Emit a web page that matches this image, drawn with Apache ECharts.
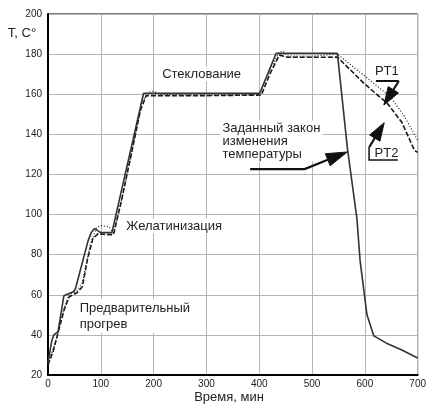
<!DOCTYPE html>
<html><head><meta charset="utf-8">
<script src="https://cdn.jsdelivr.net/npm/echarts@6/dist/echarts.min.js"></script>
<style>html,body{margin:0;padding:0;background:#fff}#c{width:429px;height:405px}</style>
</head><body><div id="c"></div>
<script>
// Setpoint ("Заданный закон изменения температуры") – solid
const setTime = [0, 7, 11, 19, 30, 48, 52, 76, 82, 88, 100, 121, 181, 401, 432, 548, 567, 585, 591, 604, 617, 640, 670, 700];
const setTemp = [26, 37, 40, 41.6, 59.5, 61.5, 63, 87, 91, 93, 91, 91, 160.5, 160.5, 180.4, 180.4, 133, 98, 77, 50, 39.5, 36, 32.5, 28.5];
// PT1 – dotted
const pt1Time = [0, 10, 20, 30, 40, 55, 65, 80, 92, 100, 115, 124, 140, 160, 178, 190, 200, 215, 300, 400, 420, 438, 445, 455, 500, 548, 600, 648, 675, 700];
const pt1Temp = [27, 33, 42, 53, 60, 62, 66, 85, 93.5, 94.5, 94, 91, 108, 133, 156, 161, 161.5, 159.8, 159.6, 159.8, 172, 181, 181.5, 179, 179, 180, 169, 158.8, 149, 137];
// PT2 – dashed
const pt2Time = [0, 10, 20, 30, 40, 55, 65, 75, 85, 95, 110, 124, 140, 160, 175, 186, 200, 300, 404, 420, 438, 454, 500, 548, 600, 642, 670, 694, 700];
const pt2Temp = [25, 32, 42, 52, 59, 61, 64, 78, 88, 90.5, 90, 90, 108, 133, 152, 159.3, 159.3, 159.3, 159.6, 170, 179.5, 178.4, 178.4, 178.5, 165, 155.6, 146, 132, 131];

const xMin = 0, xMax = 700, xStep = 100;
const yMin = 20, yMax = 200, yStep = 20;

const pairs = (xs, ys) => xs.map((x, i) => [x, ys[i]]);
const FONT = 'Liberation Sans, Arial, sans-serif';
const INK = '#1a1a1a';

const chart = echarts.init(document.getElementById('c'));
chart.setOption({
  animation: false,
  backgroundColor: '#fff',
  grid: { left: 48, right: 8, top: 14, bottom: 30, show: true, borderColor: '#000', borderWidth: 1, backgroundColor: 'transparent' },
  xAxis: {
    type: 'value', min: xMin, max: xMax, interval: xStep,
    axisLine: { show: true, lineStyle: { color: '#000', width: 2 } },
    axisTick: { show: false },
    axisLabel: { color: '#222', fontSize: 10, fontFamily: FONT, margin: 4 },
    splitLine: { show: true, lineStyle: { color: '#b4b4b4', width: 1 } }
  },
  yAxis: {
    type: 'value', min: yMin, max: yMax, interval: yStep,
    axisLine: { show: true, lineStyle: { color: '#000', width: 2 } },
    axisTick: { show: false },
    axisLabel: { color: '#222', fontSize: 10, fontFamily: FONT, margin: 6 },
    splitLine: { show: true, lineStyle: { color: '#b4b4b4', width: 1 } }
  },
  series: [
    { type: 'line', data: pairs(pt1Time, pt1Temp), symbol: 'none', z: 3,
      lineStyle: { color: INK, width: 1.2, type: [1, 2] } },
    { type: 'line', data: pairs(pt2Time, pt2Temp), symbol: 'none', z: 4,
      lineStyle: { color: INK, width: 1.6, type: [5, 2] } },
    { type: 'line', data: pairs(setTime, setTemp), symbol: 'none', z: 5,
      lineStyle: { color: '#333', width: 1.6 } }
  ]
});

const P = (x, y) => chart.convertToPixel({ gridIndex: 0 }, [x, y]);
const T = (txt, x, y, align, extra) => ({
  type: 'text', z: 50,
  x: P(x, y)[0], y: P(x, y)[1],
  style: Object.assign({ text: txt, fill: '#222', font: '13px ' + FONT, align: align || 'left', verticalAlign: 'middle',
    backgroundColor: '#fff', padding: [1, 2] }, extra || {})
});

function arrow(pts, len, hw) {
  const px = pts.map(p => P(p[0], p[1]));
  const b = px[px.length - 1], a = px[px.length - 2];
  const dx = b[0] - a[0], dy = b[1] - a[1], d = Math.hypot(dx, dy);
  const ux = dx / d, uy = dy / d;
  const base = [b[0] - ux * len, b[1] - uy * len];
  const line = px.slice(0, -1).concat([base]);
  return [
    { type: 'polyline', z: 60, shape: { points: line }, style: { stroke: '#111', lineWidth: 2.2, fill: null } },
    { type: 'polygon', z: 60, shape: { points: [b, [base[0] - uy * hw, base[1] + ux * hw], [base[0] + uy * hw, base[1] - ux * hw]] },
      style: { fill: '#111', stroke: '#111', lineWidth: 1 } }
  ];
}

const g = [];
g.push({ type: 'text', z: 50, x: 22, y: 33, style: { text: 'T, C°', fill: '#222', font: '13px ' + FONT, align: 'center', verticalAlign: 'middle' } });
g.push({ type: 'text', z: 50, x: 229, y: 397, style: { text: 'Время, мин', fill: '#222', font: '13px ' + FONT, align: 'center', verticalAlign: 'middle' } });
g.push(T('Стеклование', 290.9, 170.1, 'center'));
g.push(T('Желатинизация', 144.5, 94.3));
g.push(T('Предварительный\nпрогрев', 56.3, 49.4, 'left', { lineHeight: 16 }));
g.push(T('Заданный закон\nизменения\nтемпературы', 326.5, 136.7, 'left', { lineHeight: 13 }));
g.push(T('PT1', 641.7, 171.6, 'center', { padding: [0, 1] }));
g.push(T('PT2', 641, 130.4, 'center', { padding: [0, 1] }));
// setpoint arrow
g.push(...arrow([[382.8, 122.7], [486, 122.7], [566.7, 131.2]], 21, 6.5));
// PT1 arrow with underline
g.push({ type: 'polyline', z: 60, shape: { points: [P(621, 166.6), P(664.3, 166.6)] }, style: { stroke: '#111', lineWidth: 2, fill: null } });
g.push(...arrow([[664.3, 166.6], [636, 154.6]], 18, 6));
// PT2 bracket + arrow
g.push({ type: 'polyline', z: 60, shape: { points: [P(608, 133.7), P(608, 127.2), P(662.4, 127.2)] }, style: { stroke: '#111', lineWidth: 1.5, fill: null } });
g.push(...arrow([[608.5, 133.7], [636.7, 145.8]], 18, 6));

chart.setOption({ graphic: g });
</script></body></html>
